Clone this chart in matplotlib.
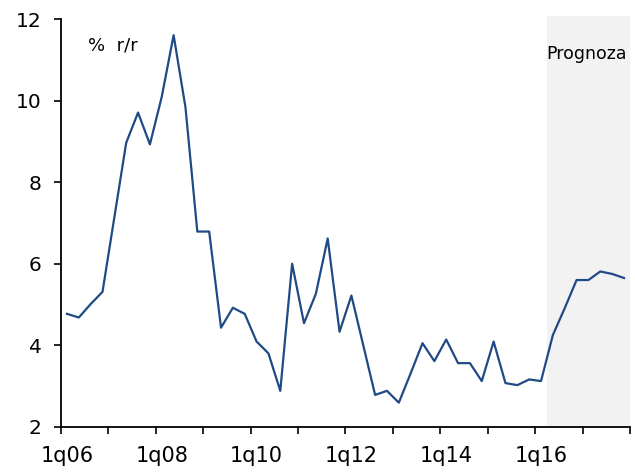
import matplotlib
matplotlib.use("Agg")
import matplotlib.pyplot as plt
import numpy as np

# kwartaly 1q06 .. 4q17
kwartaly = [f"{q}q{r:02d}" for r in range(6, 18) for q in range(1, 5)]

# dynamika r/r w %
wartosci = [4.77, 4.68, 5.01, 5.31, 7.14, 8.97, 9.71, 8.93,
            10.10, 11.61, 9.84, 6.79, 6.79, 4.43, 4.92, 4.77,
            4.09, 3.80, 2.88, 6.00, 4.54, 5.26, 6.62, 4.33,
            5.22, 4.00, 2.78, 2.88, 2.59, 3.31, 4.05, 3.61,
            4.14, 3.56, 3.56, 3.12, 4.09, 3.07, 3.02, 3.16,
            3.12, 4.25, 4.91, 5.60, 5.60, 5.81, 5.75, 5.65]

etykiety = ["1q06", "1q08", "1q10", "1q12", "1q14", "1q16"]
start_prognozy = "1q16"

x = np.arange(len(kwartaly))

fig = plt.figure(figsize=(6.35, 4.74), dpi=100)
ax = fig.add_axes([0.0961, 0.0998, 0.8959, 0.8595])

# obszar prognozy
i0 = kwartaly.index(start_prognozy) + 0.5
ax.axvspan(i0, len(kwartaly) - 0.5, ymin=0, ymax=1.008, color="#f2f2f2",
           lw=0, clip_on=False, zorder=0)

ax.plot(x, wartosci, color="#1f4a85", lw=1.6, zorder=3)

ax.set_xlim(-0.5, len(kwartaly) - 0.5)
ax.set_ylim(2, 12)

# osie
for s in ["top", "right"]:
    ax.spines[s].set_visible(False)
for s in ["left", "bottom"]:
    ax.spines[s].set_linewidth(1.3)
    ax.spines[s].set_zorder(4)

ax.set_yticks(range(2, 13, 2))
ax.tick_params(axis="y", direction="out", length=5, width=1.2, pad=9,
               labelsize=14.5)

ax.set_xticks(np.arange(-0.5, len(kwartaly), 4))
ax.set_xticklabels([])
ax.tick_params(axis="x", which="major", direction="out", length=5, width=1.2)
ax.set_xticks([kwartaly.index(e) for e in etykiety], minor=True)
ax.set_xticklabels(etykiety, minor=True)
ax.tick_params(axis="x", which="minor", length=0, pad=14, labelsize=15)

ax.text(0.047, 0.935, "%  r/r", transform=ax.transAxes, fontsize=13,
        va="center", ha="left")
ax.text(0.995, 0.915, "Prognoza", transform=ax.transAxes, fontsize=12.5,
        va="center", ha="right")

fig.savefig("out.png", dpi=100)
